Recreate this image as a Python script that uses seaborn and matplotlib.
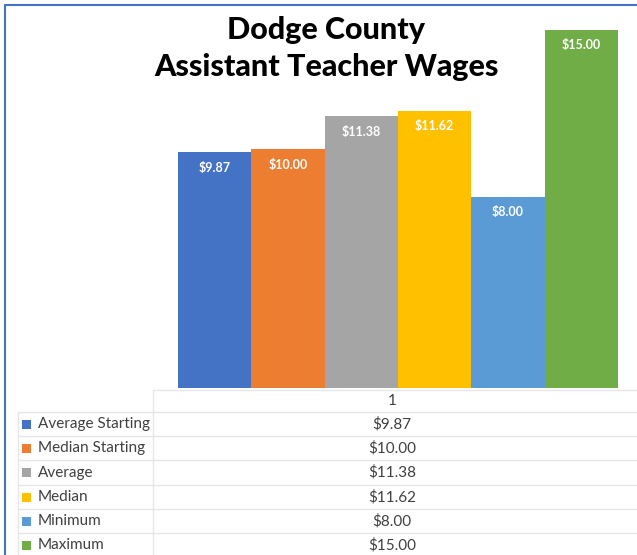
import matplotlib
matplotlib.use("Agg")
import matplotlib.pyplot as plt
import seaborn as sns
import pandas as pd
from matplotlib.patches import Rectangle
from matplotlib.lines import Line2D

categories = ["Average Starting", "Median Starting", "Average", "Median", "Minimum", "Maximum"]
values = [9.87, 10.00, 11.38, 11.62, 8.00, 15.00]
labels = ["$9.87", "$10.00", "$11.38", "$11.62", "$8.00", "$15.00"]
colors = ["#4472C4", "#ED7D31", "#A5A5A5", "#FFC000", "#5B9BD5", "#70AD47"]
group = ["1"] * len(values)

sns.set_style("white")
plt.rcParams['font.family'] = ['Lato', 'DejaVu Sans']

W, H = 637, 555
fig = plt.figure(figsize=(W / 100, H / 100), dpi=100)

def fx(px):
    return px / W

def fy(py):
    return 1 - py / H

# plot axes
ax = fig.add_axes([fx(159), fy(388), fx(637) - fx(159), fy(30) - fy(388)])
df = pd.DataFrame({"group": group, "value": values, "series": categories})
sns.barplot(data=df, x="group", y="value", hue="series", hue_order=categories,
            palette=colors, width=0.92, gap=0, dodge=True, saturation=1,
            ax=ax, legend=False, linewidth=0)
ax.set_ylim(0, 15)
ax.set_xlim(-0.5, 0.5)
ax.axis("off")
for cont, lab in zip(ax.containers, labels):
    for bar in cont:
        ax.annotate(lab, (bar.get_x() + bar.get_width() / 2, bar.get_height()),
                    xytext=(0, -11), textcoords="offset points", ha="center", va="center",
                    color="white", fontsize=9, fontweight="bold")

# title
fig.text(fx(326), fy(30), "Dodge County", ha="center", va="center",
         fontsize=22, fontweight="black", color="black")
fig.text(fx(326), fy(67), "Assistant Teacher Wages", ha="center", va="center",
         fontsize=22, fontweight="black", color="black")

# border
fig.add_artist(Line2D([fx(5), fx(5)], [fy(5), fy(555)], color="#4472C4", lw=1.5))
fig.add_artist(Line2D([fx(5), fx(637)], [fy(5), fy(5)], color="#4472C4", lw=1.5))

# data table
gridc = "#E6E6E6"
row_tops = [390, 412, 436, 460, 485, 509, 533, 557]
fig.add_artist(Line2D([fx(153), fx(637)], [fy(390), fy(390)], color=gridc, lw=1))
for yy in row_tops[1:-1]:
    fig.add_artist(Line2D([fx(18), fx(637)], [fy(yy), fy(yy)], color=gridc, lw=1))
fig.add_artist(Line2D([fx(153), fx(153)], [fy(390), fy(555)], color=gridc, lw=1))
fig.add_artist(Line2D([fx(18), fx(18)], [fy(412), fy(555)], color=gridc, lw=1))

fig.text(fx(392), fy((390 + 412) / 2), group[0], ha="center", va="center",
         fontsize=11, color="#404040")
for i, (cat, lab, col) in enumerate(zip(categories, labels, colors)):
    yc = (row_tops[i + 1] + row_tops[i + 2]) / 2
    fig.add_artist(Rectangle((fx(22), fy(yc + 4.5)), fx(9), fy(yc - 4.5) - fy(yc + 4.5),
                             facecolor=col, edgecolor="none"))
    fig.text(fx(38), fy(yc), cat, ha="left", va="center", fontsize=11, color="#404040")
    fig.text(fx(392), fy(yc), lab, ha="center", va="center", fontsize=11, color="#404040")

fig.savefig("out.png", dpi=100, facecolor="white")
